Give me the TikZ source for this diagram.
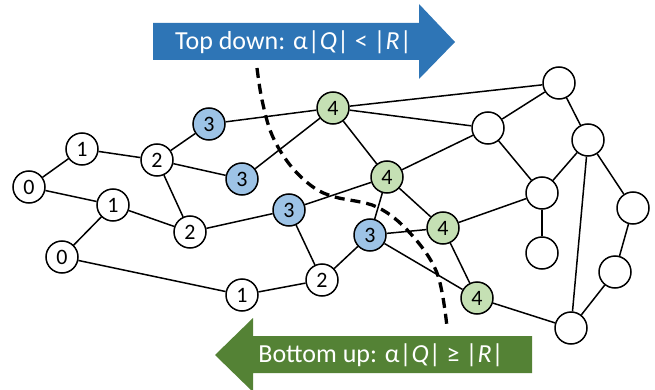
\documentclass[tikz,border=0pt]{standalone}
\usepackage{fontspec}
\setmainfont{Carlito}
\definecolor{bluearrow}{HTML}{2E75B6}
\definecolor{greenarrow}{HTML}{548235}
\definecolor{bluenode}{HTML}{9DC3E6}
\definecolor{greennode}{HTML}{C5E0B4}
\pgfdeclarelayer{bg}
\pgfsetlayers{bg,main}
\begin{document}
\begin{tikzpicture}[x=1pt,y=-1pt,
  vtx/.style={circle,draw=black,line width=1.5pt,minimum size=32pt,inner sep=0pt,fill=white,font=\fontsize{22}{22}\selectfont},
  bvtx/.style={vtx,fill=bluenode},
  gvtx/.style={vtx,fill=greennode},
  edge/.style={line width=1.5pt},
  cut/.style={line width=3.3pt,dash pattern=on 10pt off 6pt},
  lbl/.style={text=white,font=\fontsize{26}{26}\selectfont}]
\useasboundingbox (0,0) rectangle (655,390);
% arrows
\fill[bluearrow] (153,23) -- (419,23) -- (419,4) -- (455,42) -- (419,79) -- (419,60) -- (153,60) -- cycle;
\node[lbl] (td) at (293.5,42) {Top down: α\textbar\textit{Q}\textbar{} < \textbar\textit{R}\textbar};
\fill[greenarrow] (532,336) -- (253,336) -- (253,318) -- (215,355) -- (253,392) -- (253,373) -- (532,373) -- cycle;
\node[lbl] (bu) at (381,355) {Bottom up: α\textbar\textit{Q}\textbar{} ≥ \textbar\textit{R}\textbar};
% vertices
\node[vtx] (a0) at (29,187) {0};
\node[vtx] (a1) at (82,149) {1};
\node[vtx] (a2) at (157,160) {2};
\node[bvtx] (b3) at (209,124) {3};
\node[bvtx] (c3) at (242,179) {3};
\node[vtx] (b1) at (113,205) {1};
\node[vtx] (b0) at (62,257) {0};
\node[vtx] (b2) at (190,232) {2};
\node[bvtx] (d3) at (289,210) {3};
\node[vtx] (c1) at (242,295) {1};
\node[vtx] (c2) at (322,280) {2};
\node[gvtx] (a4) at (333,108) {4};
\node[gvtx] (b4) at (387,177) {4};
\node[bvtx] (e3) at (370,235) {3};
\node[gvtx] (c4) at (443,228) {4};
\node[gvtx] (d4) at (477,298) {4};
\node[vtx] (e1) at (559,83) {};
\node[vtx] (e2) at (488,128) {};
\node[vtx] (e3n) at (588,140) {};
\node[vtx] (e4) at (542,193) {};
\node[vtx] (e5) at (542,253) {};
\node[vtx] (e6) at (633,208) {};
\node[vtx] (e7) at (615,272) {};
\node[vtx] (e8) at (571,328) {};
% edges
\begin{pgfonlayer}{bg}
\foreach \u/\v in {a0/a1,a0/b1,a1/a2,a2/b3,a2/c3,a2/b2,b1/b2,b1/b0,b0/c1,b2/d3,d3/c2,c1/c2,
  b3/a4,c3/a4,d3/b4,a4/b4,a4/e1,a4/e2,b4/e2,b4/c4,b4/e3,e3/c4,e3/d4,e3/c2,c4/d4,c4/e4,d4/e8,
  e1/e2,e1/e3n,e2/e4,e3n/e4,e3n/e8,e3n/e6,e4/e5,e6/e7,e7/e8}
  \draw[edge] (\u) -- (\v);
\end{pgfonlayer}
% cut line
\draw[cut] plot[smooth,tension=0.6] coordinates {(257,68) (262,100) (272,135) (290,165) (313,187) (335,197) (377,207) (410,233) (437,273) (447,327)};
\end{tikzpicture}
\end{document}
